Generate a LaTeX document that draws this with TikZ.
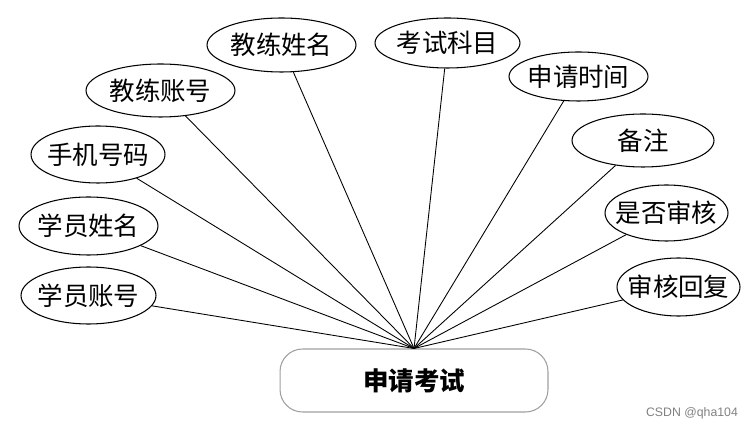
\documentclass[tikz,border=0pt]{standalone}
\usepackage{fontspec}
\setmainfont{Noto Sans CJK SC}
\newfontfamily\wmfont{Liberation Sans}
\usetikzlibrary{shapes.geometric}

\begin{document}
\begin{tikzpicture}[
        x=0.02cm, y=-0.02cm,
        attr/.style={draw, ellipse, line width=0.6pt, inner xsep=-10pt,
          inner ysep=0pt, font=\fontsize{14.5}{16}\selectfont},
        ent/.style={draw=gray!75, rounded corners=0.45cm, line width=0.6pt,
          minimum width=5.36cm, minimum height=1.26cm,
          font=\fontsize{14.5}{16}\selectfont\bfseries},
        link/.style={line width=0.5pt},
      ]
        \useasboundingbox (0,0) rectangle (749,428);

        % entity
        \node[ent] (req) at (414,380.5) {申请考试};
        \coordinate (hub) at (req.north);

        % left side
        \node[attr, minimum width=2.70cm, minimum height=1.14cm] (xyzh) at (88.5,295.5) {学员账号};
        \node[attr, minimum width=2.78cm, minimum height=1.16cm] (xyxm) at (88.5,226) {学员姓名};
        \node[attr, minimum width=2.68cm, minimum height=1.14cm] (sjhm) at (98,154.5) {手机号码};
        \node[attr, minimum width=2.98cm, minimum height=1.06cm] (jlzh) at (160.5,90.5) {教练账号};
        \node[attr, minimum width=2.98cm, minimum height=1.08cm] (jlxm) at (281.5,45) {教练姓名};

        % right side
        \node[attr, minimum width=2.90cm, minimum height=1.00cm] (kskm) at (447.5,43) {考试科目};
        \node[attr, minimum width=2.78cm, minimum height=0.98cm] (sqsj) at (578.5,76.5) {申请时间};
        \node[attr, minimum width=2.84cm, minimum height=1.06cm] (bz)   at (643,140.5) {备注};
        \node[attr, minimum width=2.46cm, minimum height=1.12cm] (sfsh) at (666.5,213) {是否审核};
        \node[attr, minimum width=2.46cm, minimum height=1.16cm] (shhf) at (678.5,287) {审核回复};

        % links
        \foreach \a in {xyzh, xyxm, sjhm, jlzh, jlxm, kskm, sqsj, bz, sfsh, shhf}
          \draw[link] (\a) -- (hub);

        \node[text=gray, font=\wmfont\fontsize{7}{8}\selectfont] (wm) at (692,413) {CSDN @qha104};
      \end{tikzpicture}
\end{document}
